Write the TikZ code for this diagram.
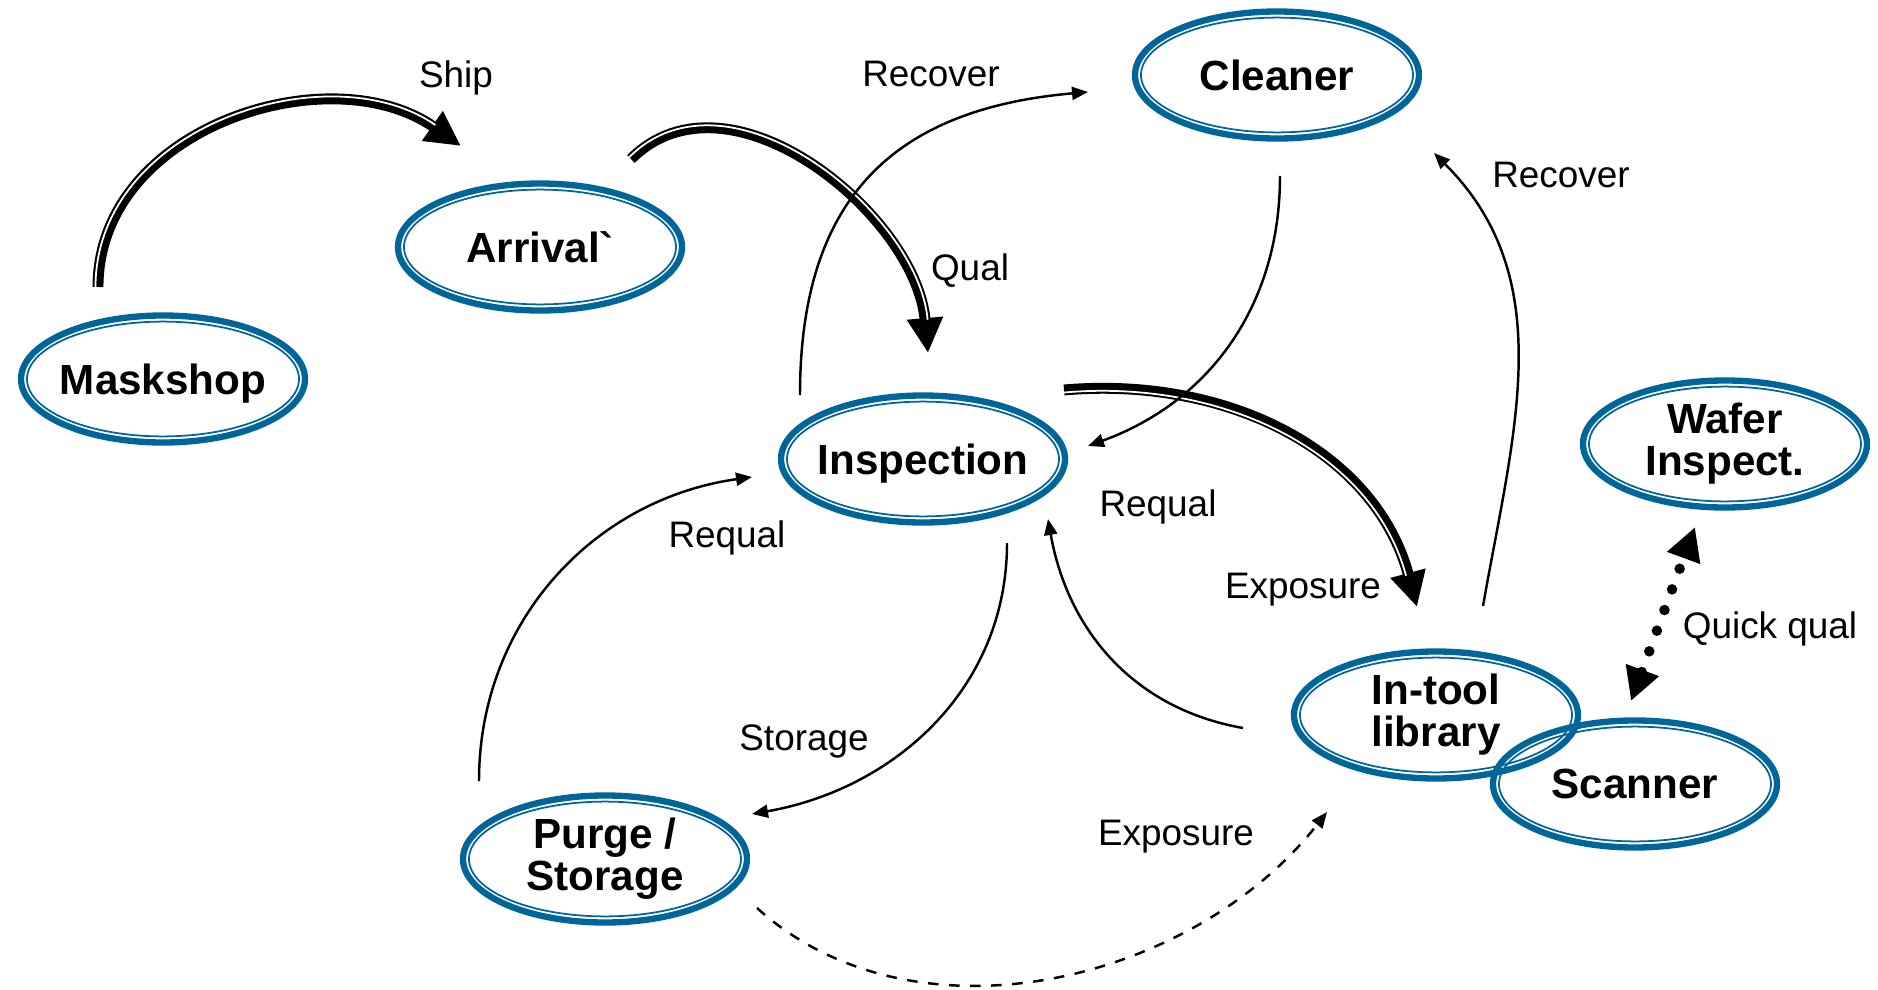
\documentclass[tikz,border=0pt]{standalone}
\usepackage{fontspec}
\setmainfont{Liberation Sans}
\usetikzlibrary{shapes.geometric,arrows.meta}
\definecolor{ringblue}{RGB}{0,101,153}

\begin{document}
\begin{tikzpicture}[
    station/.style={ellipse, draw=ringblue, line width=1.8pt, minimum width=2.84cm,
      minimum height=1.27cm, inner xsep=-4mm, inner ysep=0pt, align=center,
      font=\fontsize{12}{11.9}\selectfont\bfseries},
    ring/.style={draw=ringblue, line width=0.5pt},
    lbl/.style={font=\fontsize{10.5}{12}\selectfont},
    bigflow/.style={line width=3.1pt, -{Triangle[length=3.5mm,width=3.4mm]}},
    gapline/.style={white, line width=0.5pt, shorten >=3.3mm},
    flow/.style={line width=0.7pt, -{Triangle[length=1.6mm,width=1.3mm]}},
    qualflow/.style={line width=3pt, line cap=round, dash pattern=on 0pt off 2.2mm,
      {Triangle[length=3.3mm,width=3.3mm]}-{Triangle[length=3.3mm,width=3.3mm]}}
  ]
  \useasboundingbox (0,0) rectangle (18.78,9.89);
  % Stations
  \node[station, text depth=0pt] (mask) at (1.63,6.10) {Maskshop};
  \node[station] (arrival) at (5.40,7.42)  {Arrival\textasciigrave};
  \node[station] (cleaner) at (12.77,9.14) {Cleaner};
  \node[station, text depth=0pt] (insp) at (9.23,5.30) {Inspection};
  \node[station] (wafer)   at (17.25,5.45) {Wafer\\Inspect.};
  \node[station] (lib)     at (14.36,2.74) {In-tool\\library};
  \node[station] (scanner) at (16.35,2.05) {Scanner};
  \node[station] (purge)   at (6.05,1.30)  {Purge /\\Storage};
  \foreach \n in {mask,arrival,cleaner,insp,wafer,lib,scanner,purge}
    \draw[ring] (\n.center) ellipse (1.36cm and 0.574cm);

  % Main flow (thick)
  \draw[bigflow] ([shift={(-0.65,0.92)}]mask.center) to[out=90,in=145,looseness=1.05] ([shift={(-0.79,1.01)}]arrival.center);
  \draw[gapline] ([shift={(-0.675,0.92)}]mask.center) to[out=90,in=145,looseness=1.05] ([shift={(-0.776,1.03)}]arrival.center);
  \draw[bigflow] ([shift={(0.91,0.88)}]arrival.center) to[out=45,in=95] ([shift={(0.05,1.06)}]insp.center);
  \draw[gapline] ([shift={(0.892,0.898)}]arrival.center) to[out=45,in=95] ([shift={(0.075,1.064)}]insp.center);
  \draw[bigflow] ([shift={(1.41,0.69)}]insp.center) to[out=5,in=105] ([shift={(-0.19,1.08)}]lib.center);
  \draw[gapline] ([shift={(1.412,0.665)}]insp.center) to[out=5,in=105] ([shift={(-0.214,1.074)}]lib.center);

  % Side flows
  \draw[flow] ([shift={(-1.23,0.64)}]insp.center) to[out=90,in=185,looseness=1.2] ([shift={(-1.89,-0.17)}]cleaner.center);
  \draw[flow] ([shift={(0.03,-1.01)}]cleaner.center) to[out=-90,in=20] ([shift={(1.65,0.13)}]insp.center);
  \draw[flow] ([shift={(0.47,1.09)}]lib.center) to[out=80,in=-45] ([shift={(1.57,-0.78)}]cleaner.center);
  \draw[flow] ([shift={(-1.93,-0.13)}]lib.center) to[out=170,in=-80] ([shift={(1.25,-0.60)}]insp.center);
  \draw[flow] ([shift={(0.84,-0.84)}]insp.center) to[out=-90,in=10] ([shift={(1.47,0.45)}]purge.center);
  \draw[flow] ([shift={(-1.26,0.78)}]purge.center) to[out=90,in=188] ([shift={(-1.71,-0.18)}]insp.center);
  \draw[flow, dashed] ([shift={(1.52,-0.49)}]purge.center) to[out=-42,in=232,looseness=0.95] ([shift={(-1.09,-0.97)}]lib.center);
  \draw[qualflow] ([shift={(-0.04,0.83)}]scanner.center) -- ([shift={(-0.30,-0.83)}]wafer.center);

  % Labels
  \node[lbl] (l-ship)   at (4.56,9.11)  {Ship};
  \node[lbl] (l-rec1)   at (9.31,9.15)  {Recover};
  \node[lbl] (l-qual)   at (9.70,7.18)  {Qual};
  \node[lbl] (l-rec2)   at (15.61,8.14) {Recover};
  \node[lbl] (l-req1)   at (11.58,4.82) {Requal};
  \node[lbl] (l-req2)   at (7.27,4.51)  {Requal};
  \node[lbl] (l-exp1)   at (13.03,3.99) {Exposure};
  \node[lbl] (l-quick)  at (17.70,3.60) {Quick qual};
  \node[lbl] (l-store)  at (8.04,2.48)  {Storage};
  \node[lbl] (l-exp2)   at (11.76,1.52) {Exposure};
\end{tikzpicture}
\end{document}
